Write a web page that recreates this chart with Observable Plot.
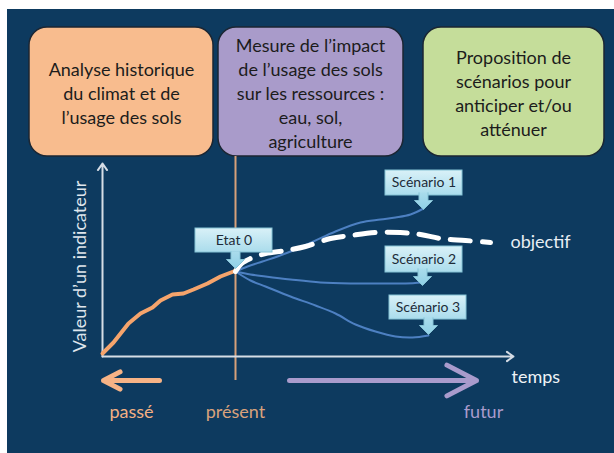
<!DOCTYPE html>
<html><head><meta charset="utf-8">
<script src="https://cdn.jsdelivr.net/npm/d3@7"></script>
<script src="https://cdn.jsdelivr.net/npm/@observablehq/plot@0.6"></script>
<style>html,body{margin:0;padding:0;background:#fff;} svg{display:block;}</style>
</head><body>
<div id="chart"></div>
<script>
// ---- data (t = temps, v = valeur de l'indicateur) ----
const passe = [[0,3],[11,14],[26,33],[38,43],[50,49],[58,56],[70,62],[81,63],[91,67],[105,73],[118,80],[131,85],[133,86]];
const scenario1 = [[133,85],[145,90],[160,95],[175,100],[193,107],[211,115],[233,125],[258,134],[278,137],[293,139],[308,142],[321,148]];
const scenario2 = [[133,85],[148,82],[163,80],[188,77],[218,74],[248,73],[278,73],[303,73],[320,74]];
const scenario3 = [[133,85],[148,76],[163,70],[188,60],[213,51],[233,43],[253,32],[273,25],[293,20],[310,19],[326,21]];
const objectif = [[133,85],[139,93],[148,98],[163,103],[183,106],[203,110],[228,118],[248,121],[273,124],[298,124],[318,122],[338,118],[363,116],[388,114]];
const present = 133;
const boxLabels = ["Analyse historique\ndu climat et de\nl’usage des sols",
  "Mesure de l’impact\nde l’usage des sols\nsur les ressources :\neau, sol,\nagriculture",
  "Proposition de\nscénarios pour\nanticiper et/ou\natténuer"];
const calloutLabels = ["Etat 0", "Scénario 1", "Scénario 2", "Scénario 3"];
const axisLabels = {y: "Valeur d’un indicateur", x: "temps"};
const timeLabels = ["passé", "présent", "futur"];
const goalLabel = "objectif";

// ---- layout (in the same t / v units) ----
const boxColors = ["#f8bc8e", "#a99bca", "#c5dd9a"];
const boxes = [
  {x1:-73, x2:111, cx:19},
  {x1:116, x2:301, cx:208},
  {x1:321, x2:502, cx:411}
].map((b,i) => ({...b, y1:329, y2:200, cy:264, label: boxLabels[i], fill: boxColors[i]}));
const callouts = [
  {x1:93, x2:170, y1:128, y2:104, tip:[133,88]},
  {x1:283, x2:360, y1:186, y2:161, tip:[321,147]},
  {x1:283, x2:360, y1:110, y2:84, tip:[320,71]},
  {x1:287, x2:364, y1:61, y2:37, tip:[326,22]}
].map((c,i) => ({...c, label: calloutLabels[i]}));

const toRows = (arr, name) => arr.map(([t,v]) => ({t, v, name}));
const scenarios = [...toRows(scenario1,"s1"), ...toRows(scenario2,"s2"), ...toRows(scenario3,"s3")];

const calloutArrow = {
  draw(ctx, size) {
    const r = Math.sqrt(size / Math.PI);
    const sw = r * 0.5, sh = r * 0.9;
    ctx.moveTo(-sw, -r - sh);
    ctx.lineTo(-sw, -r);
    ctx.lineTo(-r, -r);
    ctx.lineTo(0, 0);
    ctx.lineTo(r, -r);
    ctx.lineTo(sw, -r);
    ctx.lineTo(sw, -r - sh);
  }
};

const font = "Lato, 'Open Sans', sans-serif";
const navy = "#0d3a5f";

const plot = Plot.plot({
  width: 614, height: 453,
  margin: 0,
  x: {domain: [-102, 512], range: [0, 614], axis: null},
  y: {domain: [-97, 356], range: [453, 0], axis: null},
  style: {fontFamily: font, background: "#fff"},
  marks: [
    Plot.rect([{x1:-95, x2:512, y1:347, y2:-97}], {x1:"x1", x2:"x2", y1:"y1", y2:"y2", fill: navy}),
    // top boxes
    Plot.rect(boxes, {x1:"x1", x2:"x2", y1:"y1", y2:"y2", fill: d => d.fill, stroke:"#1b2633", strokeWidth:1.5, rx:18}),
    Plot.text(boxes, {x:"cx", y:"cy", text:"label", fontSize:18, lineHeight:1.33, fill:"#1c1c1c", fontFamily: font}),
    // present line
    Plot.ruleX([present], {y1:200, y2:-24, stroke:"#d6a07a", strokeWidth:2}),
    // axes
    Plot.arrow([{x1:0, y1:0, x2:0, y2:193}, {x1:0, y1:0, x2:411, y2:0}], {x1:"x1", y1:"y1", x2:"x2", y2:"y2", stroke:"#d6dde6", strokeWidth:2, headLength:6, headAngle:70}),
    Plot.text([axisLabels.y], {x:-22, y:90, text: d => d, rotate:-90, fontSize:18, fill:"#dfe5ec", fontFamily: font}),
    Plot.text([axisLabels.x], {x:409, y:-21, text: d => d, textAnchor:"start", fontSize:18, fill:"#eef2f6", fontFamily: font}),
    // past / future arrows
    Plot.arrow([{x1:57, x2:1, y:-24}], {x1:"x1", x2:"x2", y1:"y", y2:"y", stroke:"#f6b386", strokeWidth:5, headLength:10, headAngle:55}),
    Plot.arrow([{x1:187, x2:374, y:-24}], {x1:"x1", x2:"x2", y1:"y", y2:"y", stroke:"#a99bcc", strokeWidth:5, headLength:10, headAngle:55}),
    Plot.text(timeLabels, {x: [29, present, 381], y: -56, text: d => d, fontSize:18, fill: ["#f4b083", "#d9a27c", "#a99bcc"], fontFamily: font}),
    // curves
    Plot.line(scenarios, {x:"t", y:"v", z:"name", stroke:"#4d80c2", strokeWidth:2, curve:"catmull-rom"}),
    Plot.line(toRows(passe,"p"), {x:"t", y:"v", stroke:"#f5a46c", strokeWidth:4, strokeLinejoin:"round", strokeLinecap:"round"}),
    Plot.line(toRows(objectif,"o"), {x:"t", y:"v", stroke:"#ffffff", strokeWidth:5, strokeDasharray:"20,12", curve:"catmull-rom"}),
    Plot.text([goalLabel], {x:408, y:114, text: d => d, textAnchor:"start", fontSize:18, fill:"#e8eef4", fontFamily: font}),
    // callouts
    Plot.rect(callouts, {x1:"x1", x2:"x2", y1:"y1", y2:"y2", fill:"url(#cg)", stroke:"#86c3d6", strokeWidth:1}),
    Plot.dot(callouts, {x: d => d.tip[0], y: d => d.tip[1], r:9, symbol: calloutArrow, fill:"url(#cg2)", stroke:"#86c3d6", strokeWidth:1}),
    Plot.text(callouts, {x: d => (d.x1 + d.x2) / 2, y: d => (d.y1 + d.y2) / 2, text:"label", fontSize:14, fill:"#1d2b38", fontFamily: font})
  ]
});

const defs = d3.select(plot).insert("defs", ":first-child");
const g1 = defs.append("linearGradient").attr("id","cg").attr("x1",0).attr("y1",0).attr("x2",0).attr("y2",1);
g1.append("stop").attr("offset","0%").attr("stop-color","#d9f1f8");
g1.append("stop").attr("offset","100%").attr("stop-color","#aadcec");
const g2 = defs.append("linearGradient").attr("id","cg2").attr("x1",0).attr("y1",0).attr("x2",0).attr("y2",1);
g2.append("stop").attr("offset","0%").attr("stop-color","#aadcec");
g2.append("stop").attr("offset","100%").attr("stop-color","#8fd0e6");

document.getElementById("chart").appendChild(plot);
</script>
</body></html>
